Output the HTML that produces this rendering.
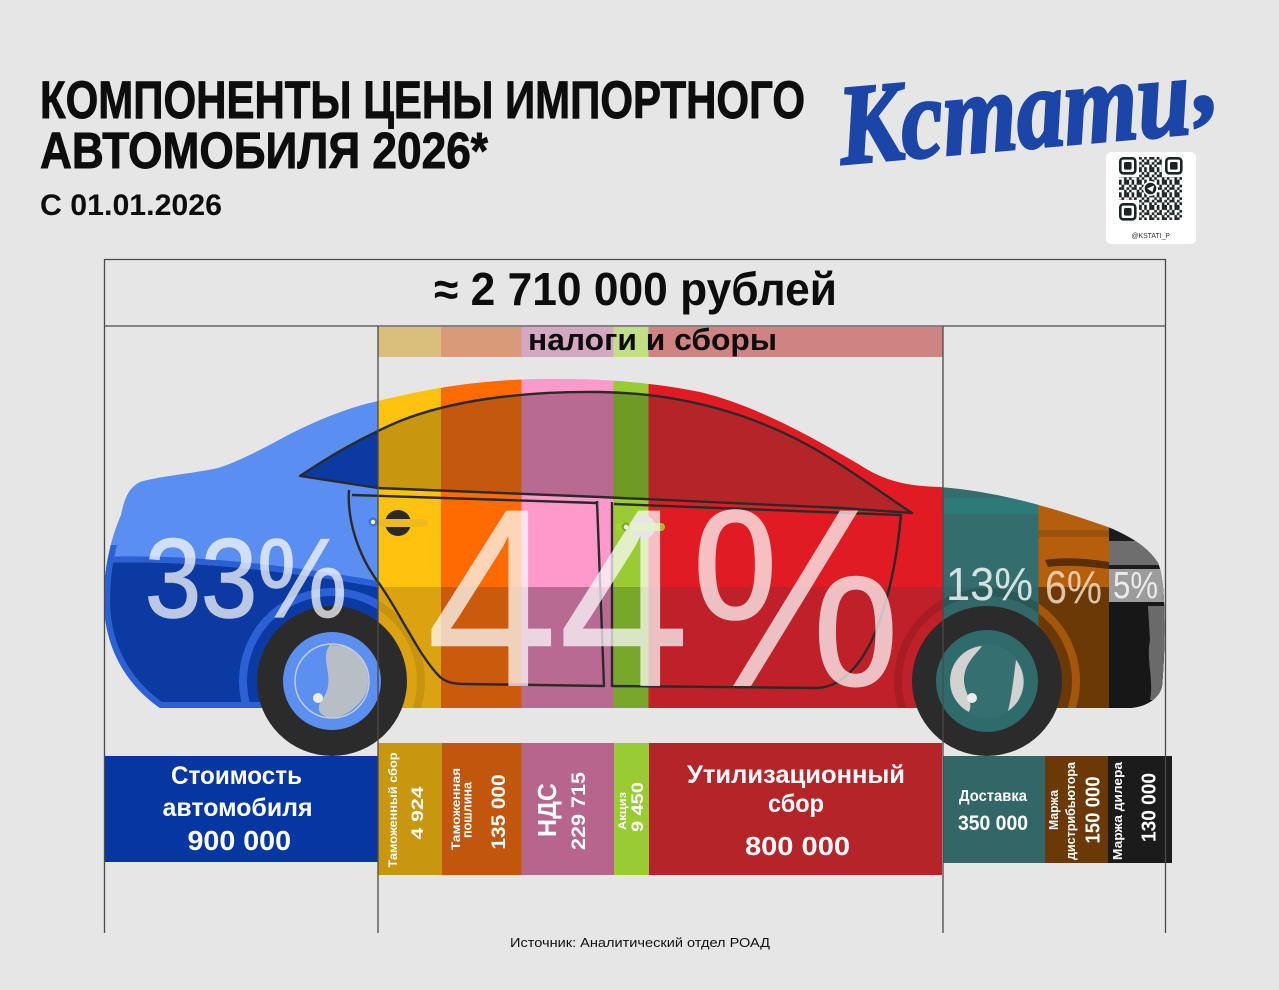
<!DOCTYPE html>
<html><head><meta charset="utf-8">
<style>
html,body{margin:0;padding:0;background:#e6e6e6;}
svg{display:block;}
text{font-family:"Liberation Sans","Noto Sans CJK SC",sans-serif;}
</style></head>
<body>
<svg width="1279" height="990" viewBox="0 0 1279 990" xmlns="http://www.w3.org/2000/svg">
<defs>
<path id="body" d="M 160 708 C 120 680, 104 640, 104 600 C 104 570, 110 540, 121 515 C 124 500, 128 488, 140 482 C 160 476, 190 474, 218 468 C 240 461, 262 449, 290 434 C 320 419, 350 407, 378 401 C 430 388, 480 380, 540 379 C 600 378, 650 382, 700 392 C 750 404, 800 430, 860 465 C 880 478, 900 486, 940 487 C 990 491, 1040 503, 1108 527 C 1135 538, 1150 550, 1158 563 C 1166 580, 1166 640, 1162 687 C 1158 700, 1145 707, 1130 708 Z"/>
<clipPath id="bodyClip"><use href="#body"/></clipPath>
<clipPath id="blueLow"><rect x="95" y="545" width="283" height="170"/></clipPath>
<linearGradient id="gL" gradientUnits="userSpaceOnUse" x1="0" y1="0" x2="1279" y2="0">
<stop offset="0" stop-color="#5a8ef0"/><stop offset="0.29554" stop-color="#5a8ef0"/>
<stop offset="0.29554" stop-color="#ffc20e"/><stop offset="0.3448" stop-color="#ffc20e"/>
<stop offset="0.3448" stop-color="#ff6b00"/><stop offset="0.40774" stop-color="#ff6b00"/>
<stop offset="0.40774" stop-color="#ff99cc"/><stop offset="0.47967" stop-color="#ff99cc"/>
<stop offset="0.47967" stop-color="#99cc33"/><stop offset="0.50704" stop-color="#99cc33"/>
<stop offset="0.50704" stop-color="#e11b23"/><stop offset="0.73768" stop-color="#e11b23"/>
<stop offset="0.73768" stop-color="#336d6d"/><stop offset="0.81196" stop-color="#336d6d"/>
<stop offset="0.81196" stop-color="#b55f0d"/><stop offset="0.86708" stop-color="#b55f0d"/>
<stop offset="0.86708" stop-color="#1c1c1c"/><stop offset="1" stop-color="#1c1c1c"/>
</linearGradient>
<linearGradient id="gD" gradientUnits="userSpaceOnUse" x1="0" y1="0" x2="1279" y2="0">
<stop offset="0" stop-color="#0a3aa2"/><stop offset="0.29554" stop-color="#0a3aa2"/>
<stop offset="0.29554" stop-color="#c8960f"/><stop offset="0.3448" stop-color="#c8960f"/>
<stop offset="0.3448" stop-color="#c4580e"/><stop offset="0.40774" stop-color="#c4580e"/>
<stop offset="0.40774" stop-color="#b96a92"/><stop offset="0.47967" stop-color="#b96a92"/>
<stop offset="0.47967" stop-color="#6f9b24"/><stop offset="0.50704" stop-color="#6f9b24"/>
<stop offset="0.50704" stop-color="#b52429"/><stop offset="0.73768" stop-color="#b52429"/>
<stop offset="0.73768" stop-color="#336868"/><stop offset="1" stop-color="#336868"/>
</linearGradient>
<linearGradient id="gB" gradientUnits="userSpaceOnUse" x1="0" y1="0" x2="1279" y2="0">
<stop offset="0" stop-color="#0a3aa2"/><stop offset="0.29554" stop-color="#0a3aa2"/>
<stop offset="0.29554" stop-color="#dba30f"/><stop offset="0.3448" stop-color="#dba30f"/>
<stop offset="0.3448" stop-color="#cc5a0c"/><stop offset="0.40774" stop-color="#cc5a0c"/>
<stop offset="0.40774" stop-color="#b96a92"/><stop offset="0.47967" stop-color="#b96a92"/>
<stop offset="0.47967" stop-color="#78a82a"/><stop offset="0.50704" stop-color="#78a82a"/>
<stop offset="0.50704" stop-color="#c02027"/><stop offset="0.73768" stop-color="#c02027"/>
<stop offset="0.73768" stop-color="#336868"/><stop offset="0.81196" stop-color="#336868"/>
<stop offset="0.81196" stop-color="#6b3906"/><stop offset="0.86708" stop-color="#6b3906"/>
<stop offset="0.86708" stop-color="#171717"/><stop offset="1" stop-color="#171717"/>
</linearGradient>
<linearGradient id="gA" gradientUnits="userSpaceOnUse" x1="0" y1="0" x2="1279" y2="0">
<stop offset="0" stop-color="#2c61d5"/><stop offset="0.29554" stop-color="#2c61d5"/>
<stop offset="0.29554" stop-color="#c8930e"/><stop offset="0.3448" stop-color="#c8930e"/>
<stop offset="0.3448" stop-color="#b4500c"/><stop offset="0.50704" stop-color="#b4500c"/>
<stop offset="0.50704" stop-color="#a81d24"/><stop offset="0.73768" stop-color="#a81d24"/>
<stop offset="0.73768" stop-color="#2a5858"/><stop offset="0.81196" stop-color="#2a5858"/>
<stop offset="0.81196" stop-color="#a4560a"/><stop offset="0.86708" stop-color="#a4560a"/>
<stop offset="0.86708" stop-color="#333333"/><stop offset="1" stop-color="#333333"/>
</linearGradient>
<pattern id="qr" x="1119" y="157" width="12.6" height="12.6" patternUnits="userSpaceOnUse">
<g fill="#1b2424">
<rect x="0" y="0" width="2.6" height="2.6"/><rect x="5.04" y="0" width="2.6" height="2.6"/><rect x="7.56" y="0" width="2.6" height="2.6"/>
<rect x="2.52" y="2.52" width="2.6" height="2.6"/><rect x="10.08" y="2.52" width="2.6" height="2.6"/>
<rect x="0" y="5.04" width="2.6" height="2.6"/><rect x="2.52" y="5.04" width="2.6" height="2.6"/><rect x="7.56" y="5.04" width="2.6" height="2.6"/>
<rect x="5.04" y="7.56" width="2.6" height="2.6"/><rect x="10.08" y="7.56" width="2.6" height="2.6"/>
<rect x="0" y="10.08" width="2.6" height="2.6"/><rect x="5.04" y="10.08" width="2.6" height="2.6"/><rect x="7.56" y="10.08" width="2.6" height="2.6"/>
</g>
</pattern>
</defs>

<rect x="0" y="0" width="1279" height="990" fill="#e6e6e6"/>

<!-- Title -->
<g fill="#0d0d0d" stroke="#0d0d0d" stroke-width="0.9" font-weight="bold">
<text x="40" y="118" font-size="53" textLength="765" lengthAdjust="spacingAndGlyphs">КОМПОНЕНТЫ ЦЕНЫ ИМПОРТНОГО</text>
<text x="40" y="168" font-size="51" textLength="448" lengthAdjust="spacingAndGlyphs">АВТОМОБИЛЯ 2026*</text>
</g>
<text x="40" y="215" font-size="30" font-weight="bold" fill="#0d0d0d" textLength="182" lengthAdjust="spacingAndGlyphs">С 01.01.2026</text>

<!-- Logo -->
<g fill="#1c45a8" stroke="#1c45a8" stroke-width="3" font-style="italic" font-weight="bold" style="font-family:'Liberation Serif',serif">
<text transform="translate(842,164) rotate(-5)" font-size="114" textLength="352" lengthAdjust="spacingAndGlyphs" style="font-family:'Liberation Serif',serif">Кстати</text>
<text transform="translate(1196,112) rotate(-5)" font-size="100" style="font-family:'Liberation Serif',serif">,</text>
</g>

<!-- QR -->
<rect x="1106" y="152" width="90" height="92" rx="5" fill="#ffffff"/>
<rect x="1119" y="157" width="63" height="63" fill="url(#qr)"/>
<g>
<rect x="1118" y="156" width="21" height="21" fill="#fff"/>
<rect x="1162" y="156" width="21" height="21" fill="#fff"/>
<rect x="1118" y="200" width="21" height="21" fill="#fff"/>
<g fill="none" stroke="#1b2424" stroke-width="2.6">
<rect x="1120.3" y="158.3" width="15" height="15" rx="3"/>
<rect x="1166.3" y="158.3" width="15" height="15" rx="3"/>
<rect x="1120.3" y="204.3" width="15" height="15" rx="3"/>
</g>
<g fill="#1b2424">
<rect x="1124" y="162" width="7.6" height="7.6" rx="1.5"/>
<rect x="1170" y="162" width="7.6" height="7.6" rx="1.5"/>
<rect x="1124" y="208" width="7.6" height="7.6" rx="1.5"/>
</g>
<circle cx="1150.5" cy="188.5" r="7.5" fill="#fff"/>
<circle cx="1150.5" cy="188.5" r="5.8" fill="#1b2424"/>
<path d="M 1147 188.5 L 1154 185.5 L 1152.5 192 Z" fill="#fff"/>
</g>
<text x="1131.5" y="238" font-size="7" fill="#333" textLength="38.5" lengthAdjust="spacingAndGlyphs">@KSTATI_P</text>

<!-- Header -->
<text x="434" y="305" font-size="46" font-weight="bold" fill="#0d0d0d" textLength="403" lengthAdjust="spacingAndGlyphs">≈ 2 710 000 рублей</text>

<!-- taxes band -->
<rect x="378" y="327" width="63" height="30" fill="#d9be7c"/>
<rect x="441" y="327" width="80.5" height="30" fill="#d89a78"/>
<rect x="521.5" y="327" width="92" height="30" fill="#d4a8c2"/>
<rect x="613.5" y="327" width="35" height="30" fill="#c2df86"/>
<rect x="648.5" y="327" width="294" height="30" fill="#d08383"/>
<text x="528" y="350" font-size="31" font-weight="bold" fill="#0d0d0d" textLength="249" lengthAdjust="spacingAndGlyphs">налоги и сборы</text>

<!-- CAR -->
<use href="#body" fill="url(#gL)"/>
<g clip-path="url(#bodyClip)">
  <rect x="943.5" y="498" width="95" height="16" fill="#2c7b79"/>
  <path d="M 1045 560 C 1070 556, 1095 560, 1109 562 L 1109 569 C 1090 567, 1070 564, 1048 567 Z" fill="#5a2f08"/>
  <rect x="1038.5" y="530" width="70.5" height="7" fill="#9a520c"/>
  <rect x="1109" y="541" width="65" height="24" fill="#6e6e6e"/>
  <path d="M 100 563 C 180 560, 270 568, 378 587 L 1175 587 L 1175 720 L 100 720 Z" fill="url(#gB)"/>
  <g clip-path="url(#blueLow)">
    <path d="M 100 560 C 180 557, 270 565, 378 584" fill="none" stroke="#2c61d5" stroke-width="6"/>
    <use href="#body" fill="none" stroke="#2c61d5" stroke-width="12"/>
  </g>
  <circle cx="332" cy="681" r="89" fill="none" stroke="url(#gA)" stroke-width="8"/>
  <circle cx="987" cy="681" r="89" fill="none" stroke="url(#gA)" stroke-width="8"/>
  <rect x="1109" y="569" width="65" height="33" fill="#9c9c9c"/>
  <path d="M 1148 606 L 1170 606 L 1170 700 L 1150 700 C 1154 680, 1146 660, 1150 640 Z" fill="#6a6a6a"/>
  <path d="M 300 476 C 330 456, 360 438, 400 421 C 450 401, 520 391, 600 392 C 680 393, 760 414, 830 458 C 862 478, 892 500, 912 513 L 841 508 L 600 497 L 378 488 Z" fill="url(#gD)"/>
</g>

<!-- outlines -->
<g fill="none" stroke="#2a2a2a" stroke-width="2.4" stroke-linejoin="round">
  <path d="M 300 476 C 330 456, 360 438, 400 421 C 450 401, 520 391, 600 392 C 680 393, 760 414, 830 458 C 862 478, 892 500, 912 513 L 841 508 L 600 497 L 378 488 Z"/>
  <path d="M 352 495 L 597 503"/>
  <path d="M 614 504 L 900 515"/>
  <path d="M 349 490 C 347 520, 358 555, 378 582 C 400 612, 418 655, 440 677 C 447 683, 455 684, 466 684 L 604 686 L 597 501"/>
  <path d="M 612 502 L 612 686 L 818 688 C 845 686, 866 660, 880 620 C 892 585, 898 550, 901 514"/>
</g>

<!-- handles -->
<circle cx="398" cy="523" r="13" fill="#2a2a2a"/>
<rect x="379" y="519" width="49" height="8" rx="4" fill="#efbb1c"/>
<circle cx="373" cy="522" r="4.5" fill="#3a6fe0"/>
<circle cx="373" cy="522" r="2.2" fill="#ffffff"/>
<circle cx="643" cy="527" r="12" fill="#a8a8a8"/>
<rect x="615" y="523" width="50" height="8" rx="4" fill="#a3d23a" opacity="0.85"/>
<circle cx="626" cy="527" r="4.5" fill="#7aa82a"/>
<circle cx="626" cy="527" r="2.2" fill="#ffffff"/>

<!-- label boxes -->
<rect x="104" y="756" width="274" height="106" fill="#0536a1"/>
<rect x="378" y="743" width="64" height="132" fill="#c9960f"/>
<rect x="442" y="743" width="79.5" height="132" fill="#c3560d"/>
<rect x="521.5" y="743" width="92.5" height="132" fill="#b8658e"/>
<rect x="614" y="743" width="35" height="132" fill="#99cc33"/>
<rect x="649" y="743" width="293" height="132" fill="#b52428"/>
<rect x="943" y="756" width="102" height="107" fill="#336767"/>
<rect x="1045" y="756" width="63" height="107" fill="#6b3906"/>
<rect x="1108" y="756" width="64" height="107" fill="#1b1b1b"/>

<!-- wheels -->
<g>
  <circle cx="332" cy="681" r="75" fill="#2b2b2b"/>
  <circle cx="332" cy="681" r="49" fill="#5b8ff0"/>
  <path d="M 330 645 C 318 660, 338 678, 322 700 C 316 708, 318 715, 330 718 C 345 718, 362 705, 367 690 C 372 670, 360 650, 345 646 Z" fill="#b8bec6"/>
  <circle cx="332" cy="681" r="37" fill="none" stroke="#c5ccd6" stroke-width="1.5"/>
  <circle cx="318" cy="698" r="5" fill="#eeeeee"/>
</g>
<g>
  <circle cx="987" cy="681" r="75" fill="#2b2b2b"/>
  <circle cx="987" cy="681" r="51" fill="#2f6b6b"/>
  <circle cx="987" cy="681" r="37" fill="#366f6f"/>
  <path d="M 982 646 A 35 35 0 0 0 969 712 C 975 700, 960 690, 965 672 C 968 660, 978 652, 982 646 Z" fill="#d2d2d2"/>
  <path d="M 1016 660 A 35 35 0 0 1 1008 711 C 1012 695, 1014 675, 1016 660 Z" fill="#d2d2d2"/>
  <circle cx="972" cy="698" r="5" fill="#eeeeee"/>
</g>

<!-- grid lines -->
<g stroke="#4a4a4a" stroke-width="1.3">
<line x1="104" y1="259.5" x2="1166" y2="259.5"/>
<line x1="104" y1="326" x2="1166" y2="326"/>
<line x1="104.5" y1="259" x2="104.5" y2="933"/>
<line x1="1165.5" y1="259" x2="1165.5" y2="933"/>
<line x1="378" y1="326" x2="378" y2="933"/>
<line x1="943" y1="326" x2="943" y2="933"/>
</g>

<!-- percentages -->
<g fill="#ffffff" stroke="#ffffff" stroke-width="1.5" opacity="0.72">
<text x="145" y="617" font-size="112" textLength="202" lengthAdjust="spacingAndGlyphs">33%</text>
</g>
<g fill="#ffffff" opacity="0.72">
<text x="426" y="686" font-size="255" textLength="475" lengthAdjust="spacingAndGlyphs">44%</text>
</g>
<g fill="#ffffff" opacity="0.8">
<text x="946" y="600" font-size="46" textLength="87" lengthAdjust="spacingAndGlyphs">13%</text>
<text x="1045" y="603" font-size="46" fill="#fbe6cf" textLength="57" lengthAdjust="spacingAndGlyphs">6%</text>
<text x="1113" y="598" font-size="38" textLength="45" lengthAdjust="spacingAndGlyphs">5%</text>
</g>

<!-- label texts -->
<g fill="#ffffff" font-weight="bold">
<text x="171" y="784" font-size="25" textLength="131" lengthAdjust="spacingAndGlyphs">Стоимость</text>
<text x="162.5" y="816" font-size="25" textLength="150" lengthAdjust="spacingAndGlyphs">автомобиля</text>
<text x="187.5" y="850" font-size="28" textLength="103.5" lengthAdjust="spacingAndGlyphs">900 000</text>

<text x="687" y="783" font-size="25" textLength="218" lengthAdjust="spacingAndGlyphs">Утилизационный</text>
<text x="768" y="812" font-size="25" textLength="56" lengthAdjust="spacingAndGlyphs">сбор</text>
<text x="745" y="855" font-size="26" textLength="105" lengthAdjust="spacingAndGlyphs">800 000</text>

<text x="959" y="801" font-size="16" textLength="68" lengthAdjust="spacingAndGlyphs">Доставка</text>
<text x="958" y="830" font-size="21" textLength="70" lengthAdjust="spacingAndGlyphs">350 000</text>

<g text-anchor="middle">
<text transform="translate(397,810) rotate(-90)" font-size="12" textLength="115" lengthAdjust="spacingAndGlyphs">Таможенный сбор</text>
<text transform="translate(423,813) rotate(-90)" font-size="17" textLength="53" lengthAdjust="spacingAndGlyphs">4 924</text>
<text transform="translate(460,809) rotate(-90)" font-size="12" textLength="82" lengthAdjust="spacingAndGlyphs">Таможенная</text>
<text transform="translate(471.5,810) rotate(-90)" font-size="13" textLength="56" lengthAdjust="spacingAndGlyphs">пошлина</text>
<text transform="translate(505,812) rotate(-90)" font-size="19" textLength="75" lengthAdjust="spacingAndGlyphs">135 000</text>
<text transform="translate(556,810) rotate(-90)" font-size="26" textLength="54" lengthAdjust="spacingAndGlyphs">НДС</text>
<text transform="translate(585,811) rotate(-90)" font-size="19" textLength="78" lengthAdjust="spacingAndGlyphs">229 715</text>
<text transform="translate(626,811) rotate(-90)" font-size="11" textLength="38" lengthAdjust="spacingAndGlyphs">Акциз</text>
<text transform="translate(643,807) rotate(-90)" font-size="16.5" textLength="50" lengthAdjust="spacingAndGlyphs">9 450</text>
<text transform="translate(1058,810) rotate(-90)" font-size="13" textLength="40" lengthAdjust="spacingAndGlyphs">Маржа</text>
<text transform="translate(1075,811) rotate(-90)" font-size="13" textLength="98" lengthAdjust="spacingAndGlyphs">дистрибьютора</text>
<text transform="translate(1099.5,810) rotate(-90)" font-size="20" textLength="67" lengthAdjust="spacingAndGlyphs">150 000</text>
<text transform="translate(1122,811) rotate(-90)" font-size="13" textLength="98" lengthAdjust="spacingAndGlyphs">Маржа дилера</text>
<text transform="translate(1155.5,807.5) rotate(-90)" font-size="20" textLength="69" lengthAdjust="spacingAndGlyphs">130 000</text>
</g>
</g>

<!-- source -->
<text x="510" y="947" font-size="13" fill="#111" textLength="260" lengthAdjust="spacingAndGlyphs">Источник: Аналитический отдел РОАД</text>
</svg>
</body></html>
